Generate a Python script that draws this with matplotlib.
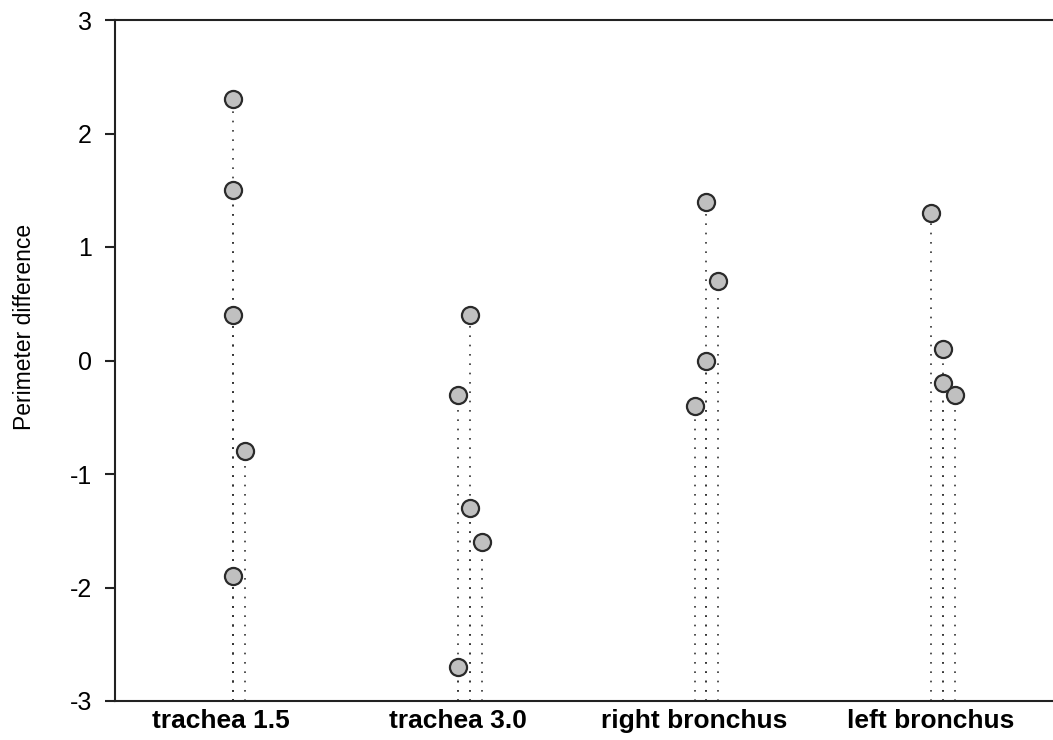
import matplotlib
matplotlib.use("Agg")
import matplotlib.pyplot as plt
import matplotlib.transforms as mtransforms

categories = ["trachea 1.5", "trachea 3.0", "right bronchus", "left bronchus"]
values = [
    [2.3, 1.5, 0.4, -0.8, -1.9],
    [0.4, -0.3, -1.3, -1.6, -2.7],
    [1.4, 0.7, 0.0, -0.4],
    [1.3, 0.1, -0.2, -0.3],
]
# column slot of each point (the plotting program's side-by-side drop-line layout)
slots = [
    [0, 0, 0, 1, 0],
    [0, -1, 0, 1, -1],
    [0, 1, 0, -1],
    [-1, 0, 0, 1],
]
yticks = [-3, -2, -1, 0, 1, 2, 3]
ylabel = "Perimeter difference"

plt.rcParams['font.family'] = ['Liberation Sans', 'DejaVu Sans']

fig = plt.figure(figsize=(10.53, 7.40), dpi=100)
ax = fig.add_axes([115 / 1053, 39 / 740, 1 - 115 / 1053, (701 - 20) / 740])

slot_w = 0.05
ymin = -3
for i, (vals, sl) in enumerate(zip(values, slots)):
    xs = [i + 1 + s * slot_w for s in sl]
    ax.vlines(xs, ymin, vals, colors='#333333', linewidth=1.2,
              linestyles=[(0, (1, 4.6))], zorder=2)
    ax.plot(xs, vals, 'o', markersize=12.3, markerfacecolor='#c0c0c0',
            markeredgecolor='#2a2a2a', markeredgewidth=1.6, linestyle='none', zorder=3)

ax.set_xlim(0.5, 4.465)
ax.set_ylim(-3, 3)
ax.set_yticks(yticks)
ax.set_yticklabels([str(t) for t in yticks])
ax.set_xticks([1, 2, 3, 4])
ax.set_xticklabels(categories, fontsize=19, fontweight='bold')
ax.tick_params(axis='x', length=0, pad=6)
ax.tick_params(axis='y', length=7.2, width=1.5, pad=9.4, labelsize=18, color='#222222')
ax.set_ylabel(ylabel, fontsize=16.5)
ax.yaxis.set_label_coords(-0.084, 0.549)

offset = mtransforms.ScaledTranslation(-12 / 100, 0, fig.dpi_scale_trans)
for lab in ax.get_xticklabels():
    lab.set_transform(lab.get_transform() + offset)

for side in ['left', 'top', 'bottom']:
    ax.spines[side].set_linewidth(1.5)
    ax.spines[side].set_color('#222222')
ax.spines['right'].set_visible(False)

fig.savefig("out.png", dpi=100)
